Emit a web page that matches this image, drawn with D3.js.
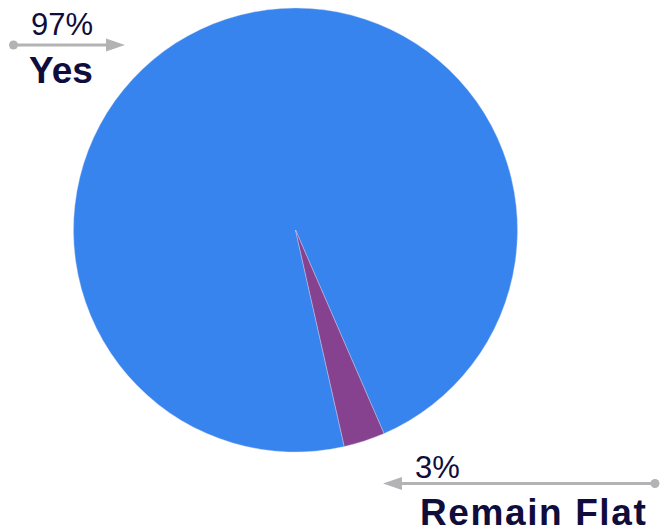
<!DOCTYPE html>
<html>
<head>
<meta charset="utf-8">
<script src="https://cdn.jsdelivr.net/npm/d3@7"></script>
<style>
  html, body { margin: 0; padding: 0; background: #ffffff; }
  svg { display: block; }
  text { font-family: "Liberation Sans", Arial, Helvetica, sans-serif; }
</style>
</head>
<body>
<svg id="chart" width="660" height="532"></svg>
<script>
const categories = ["Yes", "Remain Flat"];
const values = [97, 3];
const valueLabels = ["97%", "3%"];
const colors = ["#3884EE", "#86418F"];

const svg = d3.select("#chart");
const cx = 295.5, cy = 230, r = 222;
const startDeg = 167.3;

const pie = d3.pie().sort(null).value(d => d.value)
  .startAngle(startDeg * Math.PI / 180)
  .endAngle((startDeg + 360) * Math.PI / 180);
const data = categories.map((c, i) => ({ name: c, value: values[i], color: colors[i], label: valueLabels[i] }));
const arcs = pie(data);
const arc = d3.arc().innerRadius(0).outerRadius(r);

const g = svg.append("g").attr("transform", `translate(${cx},${cy})`);
g.selectAll("path").data(arcs).join("path")
  .attr("d", arc)
  .attr("fill", d => d.data.color)
  .attr("stroke", "#c9d6f2")
  .attr("stroke-width", 0.4);

const navy = "#0e0d3c";
const grey = "#b3b3b6";

const labelLayout = [
  { pctX: 31, pctY: 35, nameX: 29, nameY: 83, lineY: 45, dotX: 13.5, tipX: 125, baseX: 106, ls: 0 },
  { pctX: 415, pctY: 478, nameX: 420, nameY: 525, lineY: 483.5, dotX: 655, tipX: 383, baseX: 402, ls: 1.6 }
];

arcs.forEach((a, i) => {
  const L = labelLayout[i];
  const lg = svg.append("g");
  lg.append("line")
    .attr("x1", L.dotX).attr("x2", L.baseX)
    .attr("y1", L.lineY).attr("y2", L.lineY)
    .attr("stroke", grey).attr("stroke-width", 3);
  lg.append("circle").attr("cx", L.dotX).attr("cy", L.lineY).attr("r", 4.5).attr("fill", grey);
  lg.append("path")
    .attr("d", `M${L.tipX},${L.lineY} L${L.baseX},${L.lineY - 6.5} L${L.baseX},${L.lineY + 6.5} Z`)
    .attr("fill", grey);
  lg.append("text")
    .attr("x", L.pctX).attr("y", L.pctY)
    .attr("font-size", 31).attr("fill", navy)
    .text(a.data.label);
  lg.append("text")
    .attr("x", L.nameX).attr("y", L.nameY)
    .attr("font-size", 37).attr("font-weight", "bold").attr("fill", navy)
    .attr("letter-spacing", L.ls)
    .text(a.data.name);
});
</script>
</body>
</html>
